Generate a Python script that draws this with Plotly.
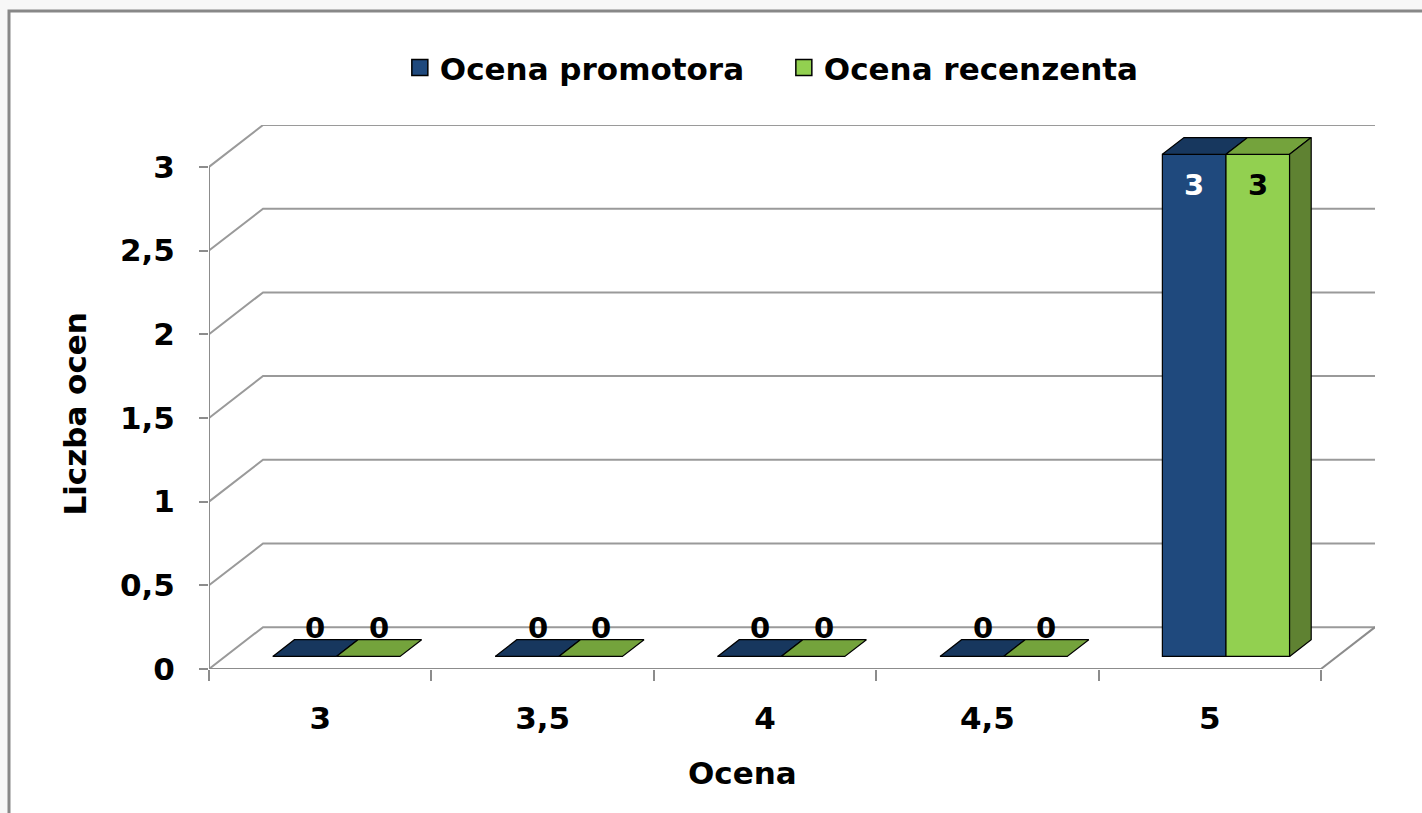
import plotly.graph_objects as go

# ---- data ----
categories = ["3", "3,5", "4", "4,5", "5"]
series_names = ["Ocena promotora", "Ocena recenzenta"]
promotor = [0, 0, 0, 0, 3]
recenzent = [0, 0, 0, 0, 3]
y_ticks = [0, 0.5, 1, 1.5, 2, 2.5, 3]
x_title = "Ocena"
y_title = "Liczba ocen"

# ---- style ----
FONT = "DejaVu Sans"
FS = 31
front_col = ["#1F497D", "#92D050"]
top_col = ["#17375E", "#74A33C"]
side_col = ["#17375E", "#5F8232"]
label_col_inside = ["white", "black"]
GRID = "#9a9a9a"
AXIS = "#8c8c8c"

DX, DY = 0.243, 0.25      # depth of the 3D floor in data units
D0, D1 = 0.3, 0.7         # bar depth slice (fraction of floor depth)
BW = 0.286                # bar width (category units)
offsets = [-BW + D0 * DX, D0 * DX]

n = len(categories)
idx = list(range(n))
xmin, xmax = -0.5, n - 0.5
series = [promotor, recenzent]

fig = go.Figure()

# front faces (real bars)
for s, vals in enumerate(series):
    fig.add_trace(go.Bar(
        x=idx, y=vals, base=D0 * DY, width=BW, offset=offsets[s],
        name=series_names[s], showlegend=False,
        marker=dict(color=front_col[s], line=dict(color="black", width=1.2)),
        hoverinfo="skip",
    ))

dd_x = (D1 - D0) * DX
dd_y = (D1 - D0) * DY

# top faces and side faces (computed from values)
for s, vals in enumerate(series):
    px, py = [], []
    for i, v in zip(idx, vals):
        x0 = i + offsets[s]
        x1 = x0 + BW
        yb = v + D0 * DY
        px += [x0, x1, x1 + dd_x, x0 + dd_x, x0, None]
        py += [yb, yb, yb + dd_y, yb + dd_y, yb, None]
    fig.add_trace(go.Scatter(x=px, y=py, mode="lines", fill="toself",
                             fillcolor=top_col[s], line=dict(color="black", width=1.2),
                             showlegend=False, hoverinfo="skip"))
    if s == len(series) - 1:
        sx, sy = [], []
        for i, v in zip(idx, vals):
            if v <= 0:
                continue
            x1 = i + offsets[s] + BW
            b = D0 * DY
            t = v + D0 * DY
            sx += [x1, x1, x1 + dd_x, x1 + dd_x, x1, None]
            sy += [b, t, t + dd_y, b + dd_y, b, None]
        fig.add_trace(go.Scatter(x=sx, y=sy, mode="lines", fill="toself",
                                 fillcolor=side_col[s], line=dict(color="black", width=1.2),
                                 showlegend=False, hoverinfo="skip"))

# legend entries (square swatches)
for s in range(len(series)):
    fig.add_trace(go.Scatter(x=[None], y=[None], mode="markers", name=series_names[s],
                             marker=dict(symbol="square", size=18, color=front_col[s],
                                         line=dict(color="black", width=1.5)),
                             showlegend=True, hoverinfo="skip"))

# data labels
annotations = []
for s, vals in enumerate(series):
    for i, v in zip(idx, vals):
        xc = i + offsets[s] + BW / 2
        if v > 0:
            annotations.append(dict(x=xc, y=v + D0 * DY, text=str(v), showarrow=False,
                                    yanchor="middle", yshift=-31,
                                    font=dict(family=FONT, size=29, color=label_col_inside[s], weight="bold")))
        else:
            annotations.append(dict(x=xc + dd_x / 2, y=v + D0 * DY + dd_y / 2, text=str(v),
                                    showarrow=False, yanchor="middle", yshift=20,
                                    font=dict(family=FONT, size=29, color="black", weight="bold")))

# axis titles
annotations.append(dict(xref="paper", yref="y", x=(75 - 209) / 1166, y=max(y_ticks) / 2 + 0.02,
                        text=y_title, textangle=-90, showarrow=False,
                        xanchor="center", yanchor="middle",
                        font=dict(family=FONT, size=FS, color="black", weight="bold")))
annotations.append(dict(xref="paper", yref="paper", x=(742 - 209) / 1166, y=(669 - 773) / 544,
                        text=x_title, showarrow=False, xanchor="center", yanchor="middle",
                        font=dict(family=FONT, size=FS, color="black", weight="bold")))

# walls: gridlines on left wall + back wall
shapes = []
shapes.append(dict(type="rect", xref="paper", yref="paper",
                   x0=(9 - 209) / 1166, x1=1.2, y0=-0.5, y1=(669 - 11) / 544,
                   fillcolor="white", line=dict(color="#888888", width=3), layer="below"))
for v in y_ticks:
    shapes.append(dict(type="path", xref="x", yref="y", layer="below",
                       path=f"M {xmin},{v} L {xmin + DX},{v + DY} L {xmax + DX},{v + DY}",
                       line=dict(color=GRID, width=2)))
# front axes and floor edge
shapes.append(dict(type="line", xref="x", yref="y", x0=xmin, y0=0, x1=xmin, y1=max(y_ticks),
                   line=dict(color=AXIS, width=2), layer="below"))
shapes.append(dict(type="line", xref="x", yref="y", x0=xmin, y0=0, x1=xmax, y1=0,
                   line=dict(color=AXIS, width=2), layer="below"))
shapes.append(dict(type="line", xref="x", yref="y", x0=xmax, y0=0, x1=xmax + DX, y1=DY,
                   line=dict(color=AXIS, width=2), layer="below"))

fig.update_layout(
    width=1422, height=813,
    margin=dict(l=209, r=47, t=125, b=144),
    paper_bgcolor="#f7f7f7", plot_bgcolor="rgba(0,0,0,0)",
    barmode="overlay",
    separators=", ",
    font=dict(family=FONT, size=FS, color="black", weight="bold"),
    showlegend=True,
    legend=dict(orientation="h", x=0.493, xanchor="center", y=1.105, yanchor="middle",
                font=dict(family=FONT, size=FS, color="black", weight="bold"),
                bgcolor="rgba(0,0,0,0)", itemwidth=30, traceorder="normal",
                entrywidth=339, entrywidthmode="pixels",
                itemclick=False, itemdoubleclick=False),
    shapes=shapes,
    annotations=annotations,
    xaxis=dict(range=[xmin, xmax + DX], tickvals=idx, ticktext=categories,
               showgrid=False, zeroline=False, showline=False, ticks="outside", ticklen=0,
               ticklabelstandoff=22,
               minor=dict(tickvals=[i - 0.5 for i in range(n + 1)], ticks="outside",
                          ticklen=11, tickcolor=AXIS, tickwidth=2, showgrid=False),
               fixedrange=True),
    yaxis=dict(range=[0, max(y_ticks) + DY], tickvals=y_ticks,
               showgrid=False, zeroline=False, showline=False,
               ticks="outside", ticklen=9, tickcolor=AXIS, tickwidth=2,
               ticklabelstandoff=18,
               fixedrange=True),
)

fig.write_html(
    "out.html",
    config={"displayModeBar": False},
    post_script="document.body.style.margin='0';document.body.style.overflow='hidden';"
                "document.body.style.background='#f7f7f7';",
)
